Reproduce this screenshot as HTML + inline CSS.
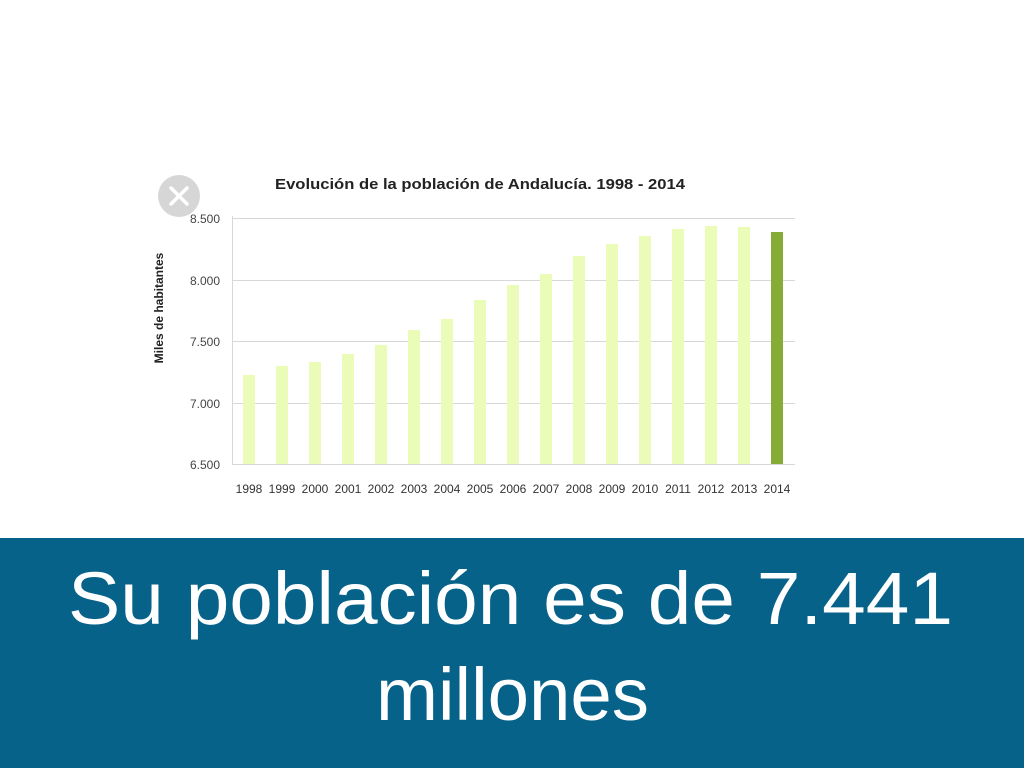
<!DOCTYPE html>
<html><head><meta charset="utf-8"><style>
html,body{margin:0;padding:0;width:1024px;height:768px;overflow:hidden;background:#fff}
</style></head><body>
<svg width="1024" height="768" xmlns="http://www.w3.org/2000/svg" style="display:block">
<rect width="1024" height="768" fill="#fff"/>
<text x="275" y="189" textLength="410" lengthAdjust="spacingAndGlyphs" font-family="Liberation Sans, sans-serif" font-weight="bold" font-size="15" fill="#222">Evolución de la población de Andalucía. 1998 - 2014</text>
<g stroke="#d8d8d8" stroke-width="1">
<line x1="232" y1="218.5" x2="795" y2="218.5"/>
<line x1="232" y1="280.5" x2="795" y2="280.5"/>
<line x1="232" y1="341.5" x2="795" y2="341.5"/>
<line x1="232" y1="403.5" x2="795" y2="403.5"/>
<line x1="232" y1="464.5" x2="795" y2="464.5"/>
<line x1="232.5" y1="216" x2="232.5" y2="465"/>
</g>
<g font-family="Liberation Sans, sans-serif" font-size="12" fill="#444" text-anchor="end">
<text x="220" y="223">8.500</text><text x="220" y="285">8.000</text><text x="220" y="346">7.500</text><text x="220" y="408">7.000</text><text x="220" y="469">6.500</text>
</g>
<text transform="translate(163,308) rotate(-90)" text-anchor="middle" font-family="Liberation Sans, sans-serif" font-weight="bold" font-size="12" fill="#222">Miles de habitantes</text>
<g fill="#ebfbb8">
<rect x="243" y="375" width="12" height="89"/>
<rect x="276" y="366" width="12" height="98"/>
<rect x="309" y="362" width="12" height="102"/>
<rect x="342" y="354" width="12" height="110"/>
<rect x="375" y="345" width="12" height="119"/>
<rect x="408" y="330" width="12" height="134"/>
<rect x="441" y="319" width="12" height="145"/>
<rect x="474" y="300" width="12" height="164"/>
<rect x="507" y="285" width="12" height="179"/>
<rect x="540" y="274" width="12" height="190"/>
<rect x="573" y="256" width="12" height="208"/>
<rect x="606" y="244" width="12" height="220"/>
<rect x="639" y="236" width="12" height="228"/>
<rect x="672" y="229" width="12" height="235"/>
<rect x="705" y="226" width="12" height="238"/>
<rect x="738" y="227" width="12" height="237"/>
</g>
<rect x="771" y="232" width="12" height="232" fill="#86ab36"/>
<g font-family="Liberation Sans, sans-serif" font-size="12" fill="#333" text-anchor="middle">
<text x="249" y="493">1998</text><text x="282" y="493">1999</text><text x="315" y="493">2000</text><text x="348" y="493">2001</text><text x="381" y="493">2002</text><text x="414" y="493">2003</text><text x="447" y="493">2004</text><text x="480" y="493">2005</text><text x="513" y="493">2006</text><text x="546" y="493">2007</text><text x="579" y="493">2008</text><text x="612" y="493">2009</text><text x="645" y="493">2010</text><text x="678" y="493">2011</text><text x="711" y="493">2012</text><text x="744" y="493">2013</text><text x="777" y="493">2014</text>
</g>
<circle cx="179" cy="196" r="21" fill="#d6d6d6"/>
<g stroke="#fff" stroke-width="3.5" stroke-linecap="round">
<line x1="171" y1="188" x2="187" y2="204"/><line x1="187" y1="188" x2="171" y2="204"/>
</g>
<rect x="0" y="538" width="1024" height="230" fill="#07628a"/>
<text x="68" y="624" textLength="885" lengthAdjust="spacingAndGlyphs" font-family="Liberation Sans, sans-serif" font-size="74" fill="#fff">Su población es de 7.441</text>
<text x="376" y="720" textLength="273" lengthAdjust="spacingAndGlyphs" font-family="Liberation Sans, sans-serif" font-size="74" fill="#fff">millones</text>
</svg>
</body></html>
